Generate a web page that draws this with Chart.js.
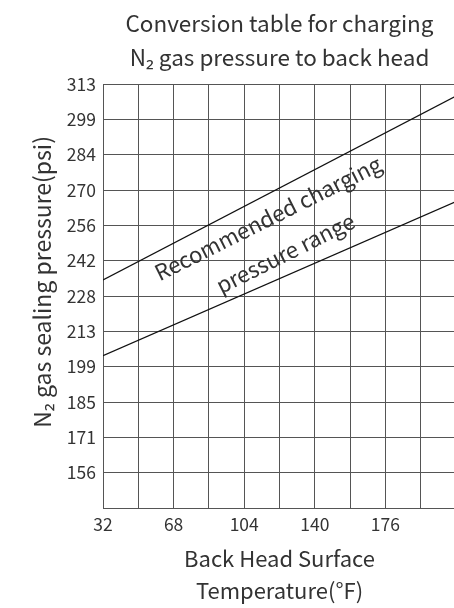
<!DOCTYPE html>
<html>
<head>
<meta charset="utf-8">
<script src="https://cdn.jsdelivr.net/npm/chart.js@4"></script>
<style>
  html, body { margin: 0; padding: 0; background: #fff; overflow: hidden; }
  #wrap { width: 470px; height: 608px; }
</style>
</head>
<body>
<div id="wrap"><canvas id="chart"></canvas></div>
<script>
// tick labels (psi), bottom to top, one per 1 kgf/cm2 step
const yTickLabels = ['', '156', '171', '185', '199', '213', '228', '242', '256', '270', '284', '299', '313'];
const PSI_PER_KGF = 14.22;
const KGF_MIN = 10;
// x ticks in F, only every other one labelled
const xLabelled = [32, 68, 104, 140, 176];

// line end points (temperature F -> psi)
const tempF = [32, 212];
const upperPsi = [234, 308];
const lowerPsi = [203.5, 265.5];

const annotationLines = ['Recommended charging', 'pressure range'];

const FONT = "'Noto Sans CJK KR', 'Noto Sans', sans-serif";
const TEXT = '#333';
const GRID = '#555';

const toPoints = (xs, ys) => xs.map((x, i) => ({ x: x, y: ys[i] }));

const rangeLabel = {
    id: 'rangeLabel',
    afterDatasetsDraw(chart) {
        const { ctx, scales } = chart;
        const px = scales.x.getPixelForValue(122.3);
        const py = scales.y.getPixelForValue(249);
        ctx.save();
        ctx.translate(px, py);
        ctx.rotate(-26.5 * Math.PI / 180);
        ctx.fillStyle = TEXT;
        ctx.font = '22px ' + FONT;
        ctx.textAlign = 'center';
        ctx.textBaseline = 'alphabetic';
        ctx.fillText(annotationLines[0], 0, -19);
        ctx.fillText(annotationLines[1], 0, 20);
        ctx.restore();
    }
};

new Chart(document.getElementById('chart'), {
    type: 'scatter',
    data: {
        datasets: [
            { data: toPoints(tempF, upperPsi), showLine: true, borderColor: '#111', borderWidth: 1.3, pointRadius: 0 },
            { data: toPoints(tempF, lowerPsi), showLine: true, borderColor: '#111', borderWidth: 1.3, pointRadius: 0 }
        ]
    },
    options: {
        responsive: true,
        maintainAspectRatio: false,
        animation: false,
        layout: { padding: { left: 0, right: 14, top: 0, bottom: 0 } },
        plugins: {
            legend: { display: false },
            tooltip: { enabled: false },
            title: {
                display: true,
                fullSize: false,
                text: ['Conversion table for charging', 'N\u2082 gas pressure to back head'],
                color: TEXT,
                font: { family: FONT, size: 22.5, weight: 'normal', lineHeight: 1.49 },
                padding: { top: 7, bottom: 10 }
            }
        },
        scales: {
            x: {
                type: 'linear',
                min: 32,
                max: 212,
                ticks: {
                    stepSize: 18,
                    color: TEXT,
                    padding: 6,
                    maxRotation: 0,
                    autoSkip: false,
                    font: { family: FONT, size: 17.5 },
                    callback: (v) => xLabelled.includes(v) ? String(v) : ''
                },
                grid: { color: GRID, lineWidth: 1, drawTicks: false },
                border: { color: GRID, width: 1 },
                title: {
                    display: true,
                    text: ['Back Head Surface', 'Temperature(\u00b0F)'],
                    color: TEXT,
                    font: { family: FONT, size: 22, lineHeight: 1.455 },
                    padding: { top: 0, bottom: 1 }
                },
                afterFit: (s) => { s.height = 100; }
            },
            y: {
                type: 'linear',
                min: KGF_MIN * PSI_PER_KGF,
                max: (KGF_MIN + yTickLabels.length - 1) * PSI_PER_KGF,
                afterBuildTicks: (axis) => {
                    axis.ticks = yTickLabels.map((_, i) => ({ value: (KGF_MIN + i) * PSI_PER_KGF }));
                },
                ticks: {
                    color: TEXT,
                    padding: 7,
                    autoSkip: false,
                    font: { family: FONT, size: 17.5 },
                    callback: (v, i) => yTickLabels[i]
                },
                grid: { color: GRID, lineWidth: 1, drawTicks: false },
                border: { color: GRID, width: 1 },
                title: {
                    display: true,
                    // leading en spaces lift the visible text a little, as in the original
                    text: '\u2002\u2002 N\u2082 gas sealing pressure(psi)',
                    color: TEXT,
                    font: { family: FONT, size: 23, lineHeight: 1.2 },
                    padding: { top: 28, bottom: 0 }
                },
                afterFit: (s) => { s.width = 103; }
            }
        }
    },
    plugins: [rangeLabel]
});
</script>
</body>
</html>
